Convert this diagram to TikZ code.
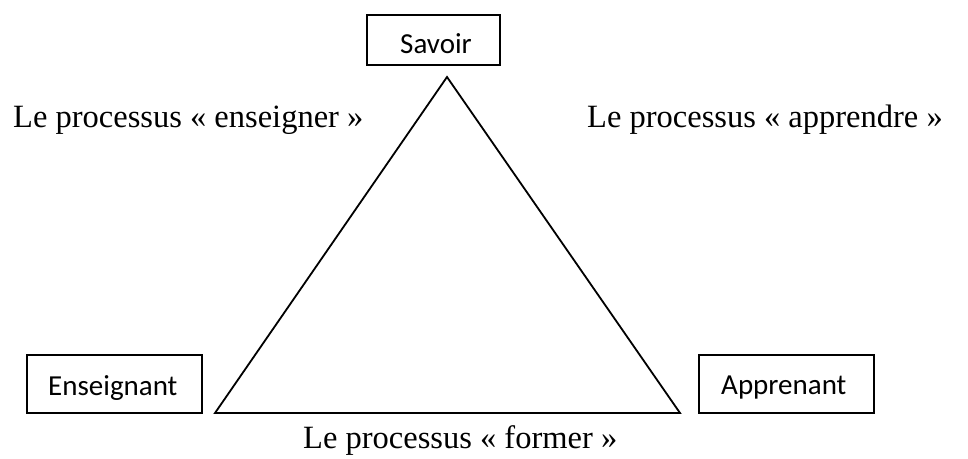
\documentclass[tikz,border=0pt]{standalone}
\usepackage{fontspec}
\setmainfont{Liberation Serif}
\newfontfamily\boxfont{Carlito}
\begin{document}
\begin{tikzpicture}[x=1pt,y=-1pt,
  boxnode/.style={draw,line width=1.8pt,inner sep=0pt,anchor=center},
  boxtext/.style={font=\boxfont\fontsize{29}{34}\selectfont,inner sep=0pt,anchor=base west},
  lbl/.style={font=\fontsize{32.5}{38}\selectfont,inner sep=0pt,anchor=base west},
  tri/.style={line width=1.8pt,line join=miter}]
\useasboundingbox (0,0) rectangle (968,458);
\node[boxnode,minimum width=133pt,minimum height=50pt] (savoir) at (433.5,40) {};
\node[boxtext] (savoirT) at (400,53) {Savoir};
\node[boxnode,minimum width=175pt,minimum height=58pt] (ens) at (114.5,384) {};
\node[boxtext] (ensT) at (48,395) {Enseignant};
\node[boxnode,minimum width=175pt,minimum height=58pt] (app) at (786.5,384) {};
\node[boxtext] (appT) at (721,394) {Apprenant};
\coordinate (A) at (447,77);
\coordinate (B) at (215,413);
\coordinate (C) at (680,413);
\draw[tri] (A) -- (B) -- (C) -- cycle;
\node[lbl] (l1) at (13,127) {Le processus « enseigner »};
\node[lbl] (l2) at (587,127) {Le processus « apprendre »};
\node[lbl] (l3) at (303,448) {Le processus « former »};
\end{tikzpicture}
\end{document}
